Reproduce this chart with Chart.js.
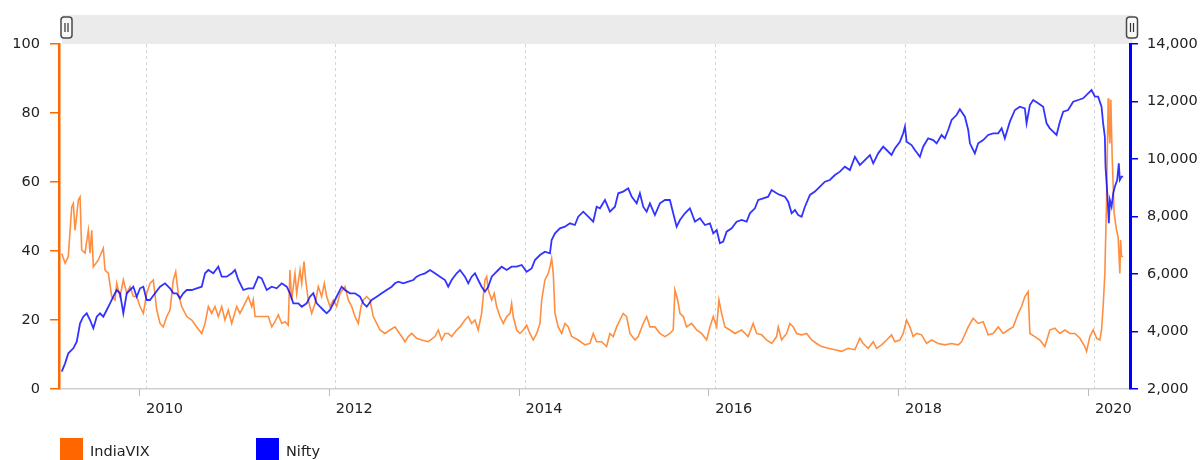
<!DOCTYPE html>
<html>
<head>
<meta charset="utf-8">
<script src="https://cdn.jsdelivr.net/npm/chart.js@4/dist/chart.umd.min.js"></script>
<style>
html,body{margin:0;padding:0;background:#fff;overflow:hidden}
#wrap{width:1201px;height:460px;position:relative}
</style>
</head>
<body>
<div id="wrap"><canvas id="c" width="1201" height="460"></canvas></div>
<script>
// ---- data (dates as decimal years) ----
const seriesNames = ['IndiaVIX', 'Nifty'];
const yearTicks = [2010, 2012, 2014, 2016, 2018, 2020];

const vixDates = [
  2009.112,2009.147,2009.181,2009.217,2009.234,2009.252,2009.287,2009.305,2009.322,2009.357,
  2009.392,2009.410,2009.428,2009.445,2009.497,2009.550,2009.568,2009.603,2009.639,2009.673,
  2009.691,2009.726,2009.761,2009.797,2009.831,2009.866,2009.902,2009.937,2009.972,2010.007,
  2010.042,2010.077,2010.113,2010.148,2010.182,2010.218,2010.253,2010.288,2010.313,2010.340,
  2010.376,2010.429,2010.482,2010.534,2010.587,2010.622,2010.657,2010.692,2010.727,2010.762,
  2010.798,2010.832,2010.867,2010.903,2010.956,2010.990,2011.043,2011.078,2011.114,2011.131,
  2011.149,2011.219,2011.289,2011.325,2011.359,2011.394,2011.430,2011.465,2011.499,2011.517,
  2011.535,2011.570,2011.588,2011.623,2011.641,2011.665,2011.683,2011.710,2011.746,2011.781,
  2011.816,2011.851,2011.879,2011.904,2011.939,2011.974,2012.009,2012.044,2012.097,2012.132,
  2012.168,2012.202,2012.237,2012.266,2012.290,2012.326,2012.360,2012.395,2012.431,2012.466,
  2012.518,2012.571,2012.624,2012.659,2012.694,2012.729,2012.764,2012.800,2012.852,2012.905,
  2012.975,2013.045,2013.080,2013.116,2013.151,2013.185,2013.221,2013.274,2013.309,2013.361,
  2013.396,2013.432,2013.467,2013.501,2013.537,2013.554,2013.572,2013.590,2013.607,2013.643,
  2013.670,2013.695,2013.730,2013.765,2013.801,2013.836,2013.853,2013.870,2013.906,2013.941,
  2013.976,2014.011,2014.046,2014.081,2014.117,2014.152,2014.170,2014.204,2014.239,2014.257,
  2014.275,2014.292,2014.310,2014.344,2014.380,2014.415,2014.450,2014.486,2014.555,2014.626,
  2014.678,2014.713,2014.749,2014.802,2014.854,2014.889,2014.924,2014.960,2014.995,2015.029,
  2015.065,2015.100,2015.153,2015.187,2015.240,2015.276,2015.311,2015.363,2015.416,2015.469,
  2015.521,2015.556,2015.574,2015.603,2015.627,2015.662,2015.697,2015.750,2015.803,2015.855,
  2015.908,2015.943,2015.978,2016.014,2016.038,2016.066,2016.101,2016.154,2016.206,2016.277,
  2016.346,2016.399,2016.435,2016.488,2016.540,2016.593,2016.646,2016.663,2016.698,2016.751,
  2016.786,2016.821,2016.856,2016.909,2016.962,2017.015,2017.067,2017.120,2017.189,2017.260,
  2017.331,2017.400,2017.471,2017.523,2017.558,2017.611,2017.664,2017.699,2017.752,2017.805,
  2017.857,2017.892,2017.945,2017.980,2018.016,2018.050,2018.085,2018.121,2018.174,2018.226,
  2018.279,2018.349,2018.419,2018.490,2018.559,2018.595,2018.665,2018.717,2018.770,2018.823,
  2018.875,2018.928,2018.981,2019.033,2019.086,2019.139,2019.192,2019.227,2019.262,2019.297,
  2019.315,2019.367,2019.420,2019.473,2019.525,2019.578,2019.631,2019.684,2019.736,2019.789,
  2019.842,2019.894,2019.912,2019.947,2019.982,2020.018,2020.052,2020.070,2020.087,2020.105,
  2020.123,2020.140,2020.147,2020.158,2020.168,2020.182,2020.203,2020.228,2020.245,2020.263,
  2020.271,2020.281,2020.298
];
const vixValues = [
  39.3,36.5,38.4,52.8,53.8,46,54.8,55.7,40.3,39.4,
  46,39.4,46,35.4,37.4,40.8,34.5,33.5,26.8,25.8,
  30.6,26.8,31.6,27.7,29.7,26.8,26.8,23.9,21.9,27.7,
  30.6,31.6,22.9,19,18,21,22.9,31.6,34,27.7,
  23.9,21,20,18,16.1,19,23.9,21.9,23.9,21,
  23.9,20,22.9,19,23.9,21.9,24.8,26.8,23.9,25.8,
  21,21,21,18,19.5,21.5,19,19.5,18.5,34.5,
  25.8,33.5,27.7,34.5,30.6,36.9,31.6,25.8,21.9,24.8,
  29.7,26.8,30.6,26.8,23.9,25.8,23.9,27.7,29.7,25.8,
  23.9,21,19,23.9,25.8,26.8,25.8,21,19,17.1,
  16.1,17.1,18,16.6,15.2,13.7,15.2,16.1,14.7,14.2,
  13.7,15.2,17.1,14.2,16.1,16.1,15.2,17.1,18,20,
  21,19,20,17.1,21.9,26.8,31.6,32.6,28.7,25.8,
  27.7,23.9,21,19,21,21.9,24.8,21,17.1,16.1,
  17.1,18.5,16.1,14.2,16.1,19,25.8,31.6,33.5,35.4,
  37.9,33.5,21.9,18,16.1,19,18,15.2,14.2,12.8,
  13.2,16.1,13.7,13.7,12.3,16.1,15.2,18,20,21.9,
  21,16.1,14.2,15.2,19,21,18,18,16.1,15.2,
  16.1,17.1,28.7,25.8,21.9,21,18,19,17.1,16.1,
  14.2,18,21,18,25.8,21.9,18,17.1,16.1,17.1,
  15.2,19,16.1,15.7,14.2,13.2,15.2,18,14.2,16.1,
  19,18,16.1,15.7,16.1,14.2,13.2,12.3,11.8,11.4,
  10.9,11.8,11.4,14.7,13.2,11.8,13.7,11.8,12.8,14.2,
  15.7,13.7,14.2,16.1,20,18,15.2,16.1,15.7,13.2,
  14.2,13.2,12.8,13.2,12.8,13.7,18,20.5,19,19.5,
  15.7,16.1,18,16.1,17.1,18,21.9,23.9,26.8,28.2,
  16.1,15.2,14.2,12.3,17.1,17.6,16.1,17.1,16.1,16.1,
  14.7,12.3,10.9,15.2,17.1,14.7,14.2,17.1,23.9,33.5,
  54.8,84.3,76,71.2,83.8,67.3,50.9,46,44.1,33.5,
  43.2,38.4,38.4
];

const niftyDates = [
  2009.112,2009.147,2009.181,2009.234,2009.270,2009.305,2009.339,2009.375,2009.410,2009.445,
  2009.481,2009.515,2009.550,2009.586,2009.621,2009.655,2009.691,2009.726,2009.761,2009.797,
  2009.831,2009.866,2009.902,2009.937,2009.972,2010.007,2010.042,2010.095,2010.148,2010.200,
  2010.253,2010.288,2010.323,2010.358,2010.393,2010.429,2010.482,2010.534,2010.587,2010.622,
  2010.657,2010.709,2010.762,2010.798,2010.850,2010.903,2010.938,2010.973,2011.025,2011.078,
  2011.131,2011.183,2011.219,2011.272,2011.325,2011.377,2011.430,2011.483,2011.517,2011.552,
  2011.605,2011.641,2011.693,2011.728,2011.763,2011.799,2011.833,2011.868,2011.904,2011.939,
  2011.992,2012.026,2012.062,2012.097,2012.150,2012.202,2012.255,2012.290,2012.326,2012.378,
  2012.431,2012.484,2012.536,2012.589,2012.624,2012.659,2012.711,2012.764,2012.817,2012.852,
  2012.887,2012.940,2012.993,2013.045,2013.098,2013.151,2013.185,2013.221,2013.274,2013.309,
  2013.361,2013.396,2013.432,2013.467,2013.501,2013.537,2013.572,2013.607,2013.643,2013.677,
  2013.712,2013.748,2013.801,2013.853,2013.906,2013.959,2014.011,2014.064,2014.099,2014.152,
  2014.204,2014.257,2014.275,2014.310,2014.362,2014.415,2014.468,2014.520,2014.555,2014.608,
  2014.661,2014.713,2014.749,2014.784,2014.837,2014.889,2014.942,2014.977,2015.029,2015.082,
  2015.118,2015.171,2015.205,2015.240,2015.276,2015.311,2015.363,2015.416,2015.469,2015.521,
  2015.556,2015.592,2015.627,2015.679,2015.732,2015.785,2015.838,2015.890,2015.943,2015.978,
  2016.014,2016.048,2016.083,2016.119,2016.172,2016.224,2016.277,2016.330,2016.364,2016.417,
  2016.452,2016.505,2016.557,2016.593,2016.646,2016.681,2016.733,2016.768,2016.804,2016.839,
  2016.873,2016.909,2016.944,2016.997,2017.049,2017.102,2017.155,2017.207,2017.260,2017.313,
  2017.365,2017.418,2017.471,2017.523,2017.576,2017.629,2017.664,2017.716,2017.769,2017.805,
  2017.857,2017.892,2017.945,2017.980,2017.998,2018.016,2018.068,2018.103,2018.156,2018.190,
  2018.243,2018.296,2018.332,2018.384,2018.419,2018.454,2018.490,2018.542,2018.577,2018.630,
  2018.665,2018.683,2018.700,2018.735,2018.770,2018.823,2018.875,2018.928,2018.981,2019.017,
  2019.051,2019.104,2019.157,2019.209,2019.262,2019.280,2019.315,2019.350,2019.402,2019.455,
  2019.491,2019.525,2019.560,2019.596,2019.631,2019.666,2019.718,2019.771,2019.824,2019.876,
  2019.929,2019.965,2020.000,2020.034,2020.070,2020.087,2020.105,2020.112,2020.133,2020.147,
  2020.158,2020.176,2020.193,2020.210,2020.235,2020.252,2020.263,2020.281,2020.298
];
const niftyValues = [
  2602,2893,3241,3415,3645,4285,4515,4633,4400,4111,
  4515,4633,4515,4748,4981,5210,5443,5329,4633,5329,
  5443,5558,5210,5503,5558,5096,5096,5329,5558,5676,
  5503,5329,5329,5155,5329,5443,5443,5503,5558,6024,
  6139,6024,6254,5906,5906,6024,6139,5791,5443,5503,
  5503,5906,5850,5443,5558,5503,5676,5558,5329,4981,
  4981,4862,4981,5210,5329,4981,4862,4748,4633,4748,
  5096,5329,5558,5443,5329,5329,5210,4981,4862,5096,
  5210,5329,5443,5558,5676,5732,5676,5732,5791,5906,
  5965,6024,6139,6024,5906,5791,5558,5791,6024,6139,
  5906,5676,5906,6024,5791,5558,5384,5558,5906,6024,
  6139,6254,6139,6254,6254,6313,6080,6195,6487,6661,
  6776,6720,7183,7415,7590,7647,7764,7705,7993,8167,
  7993,7820,8341,8285,8574,8167,8341,8807,8866,8981,
  8690,8459,8807,8341,8167,8459,8052,8459,8574,8574,
  8110,7647,7879,8110,8285,7820,7937,7705,7764,7415,
  7530,7068,7125,7473,7590,7820,7879,7820,8110,8285,
  8574,8632,8690,8922,8807,8749,8690,8516,8110,8226,
  8052,7993,8341,8749,8866,9037,9211,9270,9443,9560,
  9732,9617,10080,9790,9964,10139,9849,10197,10428,10313,
  10139,10370,10602,10893,11124,10602,10486,10313,10080,10428,
  10718,10660,10544,10835,10718,11009,11357,11530,11730,11472,
  11009,10546,10428,10197,10546,10660,10835,10893,10893,11067,
  10718,11298,11704,11820,11763,11240,11878,12052,11936,11820,
  11240,11067,10951,10835,11298,11646,11704,11994,12052,12110,
  12285,12400,12168,12168,11820,11240,10776,9732,8689,7764,
  8574,8341,8807,9037,9270,9850,9270,9385,9385
];

// ---- chart ----
Chart.defaults.font.family = "'DejaVu Sans', Verdana, sans-serif";
Chart.defaults.font.size = 14.5;
Chart.defaults.color = '#222';

const toPoints = (xs, ys) => xs.map((x, i) => ({x: x, y: ys[i]}));

const scrollbarPlugin = {
  id: 'scrollbar',
  beforeDraw(chart) {
    const {ctx, chartArea} = chart;
    const left = chartArea.left + 3, right = chartArea.right + 3;
    ctx.save();
    ctx.fillStyle = '#ebebeb';
    ctx.fillRect(left, 15, right - left, chartArea.top - 15);
    const grip = (cx) => {
      const w = 11, h = 21, x = cx - w / 2, y = 17, r = 3;
      ctx.beginPath();
      ctx.moveTo(x + r, y);
      ctx.lineTo(x + w - r, y);
      ctx.quadraticCurveTo(x + w, y, x + w, y + r);
      ctx.lineTo(x + w, y + h - r);
      ctx.quadraticCurveTo(x + w, y + h, x + w - r, y + h);
      ctx.lineTo(x + r, y + h);
      ctx.quadraticCurveTo(x, y + h, x, y + h - r);
      ctx.lineTo(x, y + r);
      ctx.quadraticCurveTo(x, y, x + r, y);
      ctx.closePath();
      ctx.fillStyle = '#f8f8f8';
      ctx.fill();
      ctx.lineWidth = 1.5;
      ctx.strokeStyle = '#4a4a4a';
      ctx.stroke();
      ctx.lineWidth = 1.2;
      ctx.strokeStyle = '#333';
      ctx.beginPath();
      ctx.moveTo(cx - 1.5, y + 6); ctx.lineTo(cx - 1.5, y + 15);
      ctx.moveTo(cx + 1.5, y + 6); ctx.lineTo(cx + 1.5, y + 15);
      ctx.stroke();
    };
    grip(chartArea.left + 7.5);
    grip(chartArea.right + 2);
    ctx.restore();
  }
};

const xTickPlugin = {
  id: 'xTickMarks',
  afterDraw(chart) {
    const {ctx, chartArea} = chart;
    const sx = chart.scales.x;
    ctx.save();
    ctx.strokeStyle = '#bdbdbd';
    ctx.lineWidth = 1;
    sx.ticks.forEach(t => {
      const px = Math.round(sx.getPixelForValue(t.value)) - 7 + 0.5;
      ctx.beginPath();
      ctx.moveTo(px, chartArea.bottom);
      ctx.lineTo(px, chartArea.bottom + 7);
      ctx.stroke();
    });
    ctx.restore();
  }
};

const legendX = [60, 256];
const legendPlugin = {
  id: 'bottomLegend',
  afterDraw(chart) {
    const {ctx} = chart;
    ctx.save();
    ctx.font = "14.5px 'DejaVu Sans', Verdana, sans-serif";
    ctx.textBaseline = 'alphabetic';
    ctx.textAlign = 'left';
    chart.data.datasets.forEach((ds, i) => {
      const x = legendX[i];
      ctx.fillStyle = ds.legendColor;
      ctx.fillRect(x, 438, 23, 23);
      ctx.fillStyle = '#222';
      ctx.fillText(ds.label, x + 30, 456);
    });
    ctx.restore();
  }
};

new Chart(document.getElementById('c'), {
  type: 'line',
  data: {
    datasets: [
      {
        label: seriesNames[0],
        data: toPoints(vixDates, vixValues),
        yAxisID: 'yVix',
        borderColor: 'rgba(255,110,10,0.78)',
        legendColor: '#ff6600',
        borderWidth: 1.6,
        pointRadius: 0,
        tension: 0,
        order: 2
      },
      {
        label: seriesNames[1],
        data: toPoints(niftyDates, niftyValues),
        yAxisID: 'yNifty',
        borderColor: 'rgba(0,0,255,0.8)',
        legendColor: '#0000ff',
        borderWidth: 1.8,
        pointRadius: 0,
        tension: 0,
        order: 1
      }
    ]
  },
  options: {
    responsive: false,
    animation: false,
    parsing: true,
    layout: {padding: {top: 44, left: 0, right: 0, bottom: 0}},
    plugins: {
      legend: {display: false},
      tooltip: {enabled: false}
    },
    scales: {
      x: {
        type: 'linear',
        position: 'bottom',
        min: 2009.083,
        max: 2020.37,
        afterBuildTicks: s => { s.ticks = yearTicks.map(v => ({value: v})); },
        afterFit: s => { s.height = 71; },
        ticks: {
          align: 'start',
          autoSkip: false,
          maxRotation: 0,
          padding: 12,
          callback: v => String(v)
        },
        grid: {color: '#d6d6d6', lineWidth: 1, drawTicks: false},
        border: {color: '#cfcfcf', width: 1.5, dash: [3, 3]}
      },
      yVix: {
        type: 'linear',
        position: 'left',
        min: 0,
        max: 100,
        afterFit: s => { s.width = 59; },
        ticks: {stepSize: 20, padding: 10},
        grid: {drawOnChartArea: false, color: '#ff6a00', tickLength: 9, lineWidth: 1.5},
        border: {color: '#ff6a00', width: 2.5}
      },
      yNifty: {
        type: 'linear',
        position: 'right',
        min: 2000,
        max: 14000,
        afterFit: s => { s.width = 71; },
        ticks: {stepSize: 2000, padding: 9, callback: v => v.toLocaleString('en-US')},
        grid: {drawOnChartArea: false, color: '#0000ff', tickLength: 8, lineWidth: 1.5},
        border: {color: '#0000ff', width: 3}
      }
    }
  },
  plugins: [scrollbarPlugin, xTickPlugin, legendPlugin]
});
</script>
</body>
</html>
